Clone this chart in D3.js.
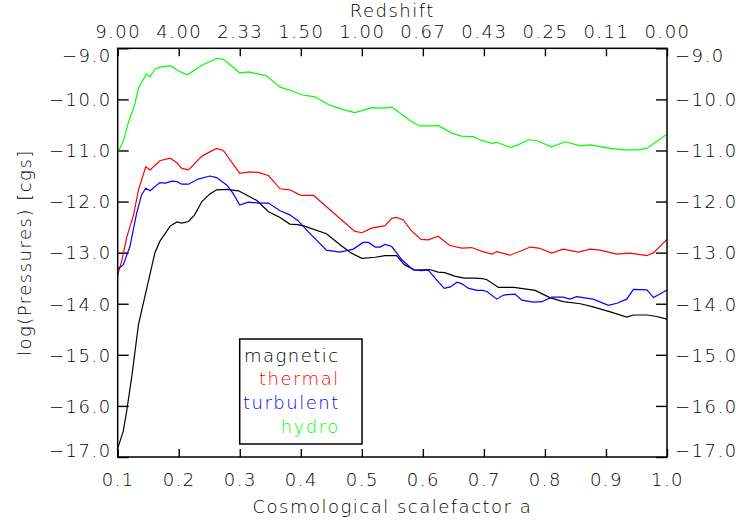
<!DOCTYPE html>
<html>
<head>
<meta charset="utf-8">
<script src="https://cdn.jsdelivr.net/npm/d3@7"></script>
<style>
  body { margin: 0; background: #fff; }
  text { font-family: "DejaVu Sans", sans-serif; font-weight: 200; fill: #000; letter-spacing: 1.5px; }
</style>
</head>
<body>
<script>
//scalefactor ticks (bottom) and redshift labels (top)
var aTicks = [0.1, 0.2, 0.3, 0.4, 0.5, 0.6, 0.7, 0.8, 0.9, 1.0];
var zTickLabels = ["9.00", "4.00", "2.33", "1.50", "1.00", "0.67", "0.43", "0.25", "0.11", "0.00"];
var yTicks = [-9, -10, -11, -12, -13, -14, -15, -16, -17];

var legendNames = ["magnetic", "thermal", "turbulent", "hydro"];
var seriesColors = ["#000000", "#ff0000", "#0000ff", "#00ff00"];

//pressure curves: [a, log P]
var magnetic = [[0.1,-16.83],[0.109,-16.50],[0.115,-16.08],[0.123,-15.43],[0.134,-14.41],[0.147,-13.73],[0.161,-13.0],[0.169,-12.78],[0.186,-12.48],[0.197,-12.40],[0.205,-12.42],[0.216,-12.39],[0.226,-12.26],[0.238,-12.0],[0.251,-11.85],[0.262,-11.77],[0.279,-11.76],[0.298,-11.79],[0.311,-11.87],[0.328,-11.98],[0.347,-12.20],[0.366,-12.31],[0.382,-12.44],[0.395,-12.45],[0.406,-12.48],[0.442,-12.63],[0.467,-12.87],[0.483,-13.01],[0.5,-13.11],[0.522,-13.09],[0.538,-13.06],[0.557,-13.06],[0.570,-13.24],[0.587,-13.34],[0.611,-13.33],[0.625,-13.38],[0.636,-13.39],[0.652,-13.46],[0.668,-13.50],[0.685,-13.50],[0.698,-13.51],[0.705,-13.53],[0.724,-13.68],[0.749,-13.68],[0.784,-13.74],[0.808,-13.88],[0.830,-13.96],[0.858,-14.0],[0.879,-14.06],[0.907,-14.16],[0.934,-14.26],[0.945,-14.22],[0.967,-14.22],[0.983,-14.25],[1.0,-14.30]];

var thermal = [[0.1,-13.44],[0.107,-13.14],[0.115,-12.69],[0.126,-12.26],[0.134,-11.77],[0.146,-11.32],[0.153,-11.38],[0.169,-11.20],[0.186,-11.15],[0.197,-11.24],[0.205,-11.35],[0.216,-11.38],[0.238,-11.11],[0.262,-10.96],[0.273,-11.0],[0.3,-11.45],[0.316,-11.42],[0.330,-11.43],[0.347,-11.49],[0.366,-11.75],[0.382,-11.77],[0.395,-11.85],[0.401,-11.88],[0.421,-11.88],[0.445,-12.13],[0.467,-12.36],[0.488,-12.58],[0.5,-12.61],[0.516,-12.52],[0.538,-12.47],[0.549,-12.33],[0.557,-12.31],[0.568,-12.36],[0.581,-12.57],[0.597,-12.74],[0.609,-12.75],[0.625,-12.68],[0.644,-12.86],[0.664,-12.91],[0.680,-12.90],[0.698,-12.98],[0.713,-13.03],[0.721,-12.98],[0.743,-13.05],[0.776,-12.89],[0.790,-12.91],[0.811,-13.01],[0.830,-12.93],[0.855,-12.99],[0.874,-12.93],[0.890,-12.95],[0.918,-13.03],[0.940,-13.01],[0.967,-13.06],[0.978,-13.0],[1.0,-12.74]];

var turbulent = [[0.1,-13.32],[0.109,-13.24],[0.120,-12.88],[0.131,-12.23],[0.139,-11.87],[0.146,-11.74],[0.153,-11.79],[0.169,-11.63],[0.178,-11.64],[0.189,-11.60],[0.197,-11.61],[0.205,-11.66],[0.216,-11.66],[0.232,-11.56],[0.251,-11.50],[0.262,-11.53],[0.279,-11.68],[0.289,-11.84],[0.3,-12.07],[0.314,-12.01],[0.330,-12.03],[0.347,-12.03],[0.366,-12.18],[0.382,-12.26],[0.395,-12.37],[0.412,-12.59],[0.442,-12.95],[0.464,-12.99],[0.486,-12.93],[0.502,-12.80],[0.511,-12.80],[0.522,-12.89],[0.530,-12.89],[0.538,-12.84],[0.549,-12.88],[0.565,-13.13],[0.584,-13.34],[0.598,-13.35],[0.609,-13.34],[0.620,-13.50],[0.635,-13.70],[0.645,-13.67],[0.656,-13.58],[0.664,-13.61],[0.675,-13.70],[0.689,-13.74],[0.698,-13.74],[0.705,-13.76],[0.721,-13.91],[0.732,-13.83],[0.751,-13.81],[0.762,-13.93],[0.781,-13.97],[0.795,-13.96],[0.811,-13.87],[0.830,-13.87],[0.841,-13.91],[0.852,-13.86],[0.879,-13.91],[0.904,-14.03],[0.918,-13.99],[0.934,-13.91],[0.945,-13.72],[0.967,-13.73],[0.978,-13.88],[1.0,-13.73]];

var hydro = [[0.1,-11.04],[0.109,-10.83],[0.117,-10.47],[0.127,-10.14],[0.134,-9.78],[0.140,-9.65],[0.147,-9.50],[0.153,-9.56],[0.161,-9.41],[0.169,-9.37],[0.186,-9.34],[0.199,-9.44],[0.214,-9.52],[0.238,-9.33],[0.262,-9.20],[0.273,-9.21],[0.3,-9.48],[0.314,-9.46],[0.344,-9.54],[0.366,-9.76],[0.385,-9.83],[0.401,-9.91],[0.423,-9.95],[0.445,-10.10],[0.467,-10.19],[0.488,-10.26],[0.5,-10.22],[0.516,-10.16],[0.535,-10.17],[0.549,-10.15],[0.563,-10.27],[0.579,-10.42],[0.595,-10.52],[0.612,-10.52],[0.625,-10.51],[0.647,-10.66],[0.663,-10.72],[0.683,-10.73],[0.695,-10.80],[0.713,-10.86],[0.721,-10.84],[0.743,-10.94],[0.754,-10.90],[0.773,-10.79],[0.787,-10.81],[0.811,-10.93],[0.833,-10.83],[0.858,-10.91],[0.874,-10.89],[0.907,-10.96],[0.929,-10.99],[0.951,-10.99],[0.967,-10.96],[1.0,-10.68]];

var seriesData = [magnetic, thermal, turbulent, hydro];

var width = 739, height = 522;
var margin = {top: 48.3, right: 72, bottom: 65, left: 117.7};
var innerW = width - margin.left - margin.right,
    innerH = height - margin.top - margin.bottom;

var svg = d3.select("body").append("svg")
  .attr("width", width)
  .attr("height", height);

var g = svg.append("g")
  .attr("transform", "translate(" + margin.left + "," + margin.top + ")");

var x = d3.scaleLinear().domain([0.1, 1.0]).range([0, innerW]);
var y = d3.scaleLinear().domain([-17, -9]).range([innerH, 0]);

var fmtY = function(d){ return "\u2212" + Math.abs(d).toFixed(1); };
var fontSize = 18;

//left axis
var left = g.append("g").attr("class", "axis")
  .call(d3.axisLeft(y).tickValues(yTicks).tickSize(-11).tickPadding(6).tickFormat(fmtY));
//right axis
var right = g.append("g").attr("class", "axis")
  .attr("transform", "translate(" + innerW + ",0)")
  .call(d3.axisRight(y).tickValues(yTicks).tickSize(-11).tickPadding(8).tickFormat(fmtY));
//bottom axis
var bottom = g.append("g").attr("class", "axis")
  .attr("transform", "translate(0," + innerH + ")")
  .call(d3.axisBottom(x).tickValues(aTicks).tickSize(-8).tickPadding(16).tickFormat(d3.format(".1f")));
//top axis - redshift
var top = g.append("g").attr("class", "axis")
  .call(d3.axisTop(x).tickValues(aTicks).tickSize(-8).tickPadding(10)
    .tickFormat(function(d, i){ return zTickLabels[i]; }));

g.selectAll(".axis .domain").remove();
g.selectAll(".axis line").attr("stroke", "#000").attr("stroke-width", 1.4);
g.selectAll(".axis text")
  .style("font-size", fontSize + "px")
  .style("font-family", "'DejaVu Sans', sans-serif")
  .style("font-weight", 200)
  .attr("fill", "#000");

//end labels shifted inward like the original
[left, right].forEach(function(ax){
  ax.selectAll(".tick text").attr("dy", function(d){
    if (d == -9) return "0.72em";
    if (d == -17) return "-0.02em";
    return "0.35em";
  });
});

//series lines
var line = d3.line()
  .x(function(d){ return x(d[0]); })
  .y(function(d){ return y(d[1]); });

g.selectAll(".series")
  .data(seriesData)
  .enter()
  .append("path")
  .attr("class", "series")
  .attr("d", line)
  .attr("fill", "none")
  .attr("stroke", function(d, i){ return seriesColors[i]; })
  .attr("stroke-width", 1.2);

//frame
g.append("rect")
  .attr("width", innerW)
  .attr("height", innerH)
  .attr("fill", "none")
  .attr("stroke", "#000")
  .attr("stroke-width", 1.5);

//legend
var legend = g.append("g").attr("transform", "translate(" + (239.7 - margin.left) + "," + (339 - margin.top) + ")");
legend.append("rect")
  .attr("width", 122.3)
  .attr("height", 105)
  .attr("fill", "#fff")
  .attr("stroke", "#000")
  .attr("stroke-width", 1.5);
legend.selectAll(".legtext")
  .data(legendNames)
  .enter()
  .append("text")
  .attr("class", "legtext")
  .attr("x", 100)
  .attr("y", function(d, i){ return 22.7 + i * 23.6; })
  .attr("text-anchor", "end")
  .style("font-size", fontSize + "px")
  .style("fill", function(d, i){ return seriesColors[i]; })
  .text(function(d){ return d; });

//titles
svg.append("text")
  .attr("x", margin.left + innerW / 2)
  .attr("y", 17)
  .attr("text-anchor", "middle")
  .style("font-size", fontSize + "px")
  .text("Redshift");

svg.append("text")
  .attr("x", margin.left + innerW / 2)
  .attr("y", 513)
  .attr("text-anchor", "middle")
  .style("font-size", fontSize + "px")
  .text("Cosmological scalefactor a");

svg.append("text")
  .attr("transform", "translate(31," + (margin.top + innerH / 2) + ") rotate(-90)")
  .attr("text-anchor", "middle")
  .style("font-size", fontSize + "px")
  .text("log(Pressures) [cgs]");
</script>
</body>
</html>
